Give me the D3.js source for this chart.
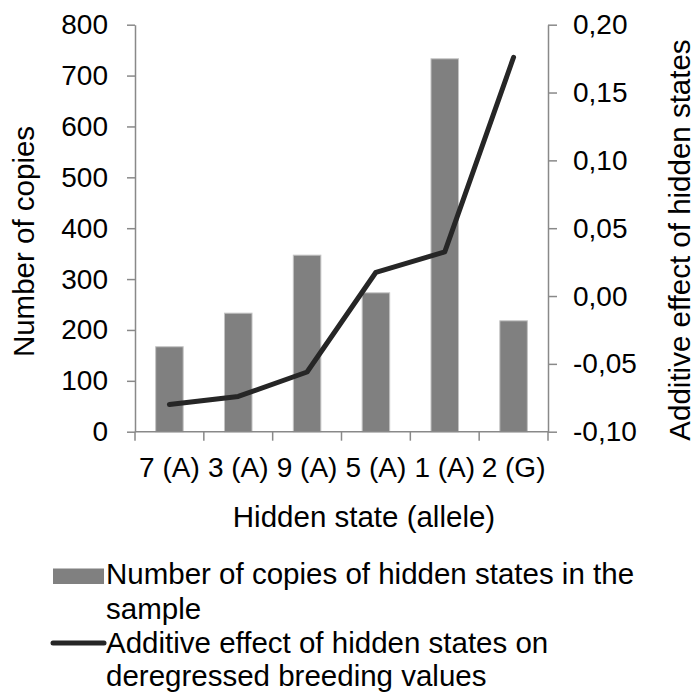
<!DOCTYPE html>
<html>
<head>
<meta charset="utf-8">
<script src="https://cdn.jsdelivr.net/npm/d3@7/dist/d3.min.js"></script>
<style>
  html, body { margin: 0; padding: 0; background: #fff; }
  svg { display: block; }
  text { font-family: "Liberation Sans", Arial, sans-serif; fill: #000; }
</style>
</head>
<body>
<svg id="chart" width="695" height="693"></svg>
<script>
const categories = ["7 (A)", "3 (A)", "9 (A)", "5 (A)", "1 (A)", "2 (G)"];
const copies = [167, 233, 347, 273, 733, 218];
const effects = [-0.080, -0.074, -0.056, 0.0175, 0.0325, 0.176];
const leftTicks = [0, 100, 200, 300, 400, 500, 600, 700, 800];
const rightTicks = [-0.10, -0.05, 0.00, 0.05, 0.10, 0.15, 0.20];
const xTitle = "Hidden state (allele)";
const leftTitle = "Number of copies";
const rightTitle = "Additive effect of hidden states";
const legendBar = ["Number of copies of hidden states in the", "sample"];
const legendLine = ["Additive effect of hidden states on", "deregressed breeding values"];

const svg = d3.select("#chart");
const FS = 28;
const FT = 29.5;
const axisColor = "#898989";
const plotL = 135, plotR = 548, plotT = 24.7, plotB = 431.7;

const x = d3.scaleBand().domain(categories).range([plotL, plotR]).padding(0);
const yL = d3.scaleLinear().domain([0, 800]).range([plotB, plotT]);
const yR = d3.scaleLinear().domain([-0.10, 0.20]).range([plotB, plotT]);

const loc = d3.formatLocale({decimal: ",", thousands: ".", grouping: [3], currency: ["", ""], minus: "-"});
const fmtR = loc.format(".2f");

// Bars
svg.append("g").selectAll("rect").data(categories).join("rect")
  .attr("x", d => x(d) + x.bandwidth() * 0.3)
  .attr("width", x.bandwidth() * 0.4)
  .attr("y", (d, i) => yL(copies[i]))
  .attr("height", (d, i) => yL(0) - yL(copies[i]))
  .attr("fill", "#808080")
  .attr("stroke", "#c4c4c4")
  .attr("stroke-width", 1);

// Left axis
const gL = svg.append("g").attr("transform", `translate(${plotL},0)`)
  .call(d3.axisLeft(yL).tickValues(leftTicks).tickFormat(d3.format("d")).tickSize(8).tickSizeOuter(0).tickPadding(19));
// Right axis
const gR = svg.append("g").attr("transform", `translate(${plotR},0)`)
  .call(d3.axisRight(yR).tickValues(rightTicks).tickFormat(fmtR).tickSize(9).tickSizeOuter(0).tickPadding(16));
// Bottom axis labels
const gB = svg.append("g").attr("transform", `translate(0,${plotB})`)
  .call(d3.axisBottom(x).tickSize(0).tickPadding(25.5));
gB.select(".domain").remove();

// Bottom axis line and boundary ticks
const bounds = categories.map(c => x(c)).concat([x(categories[categories.length - 1]) + x.bandwidth()]);
const gBT = svg.append("g");
gBT.append("line").attr("x1", plotL).attr("x2", plotR).attr("y1", plotB).attr("y2", plotB);
gBT.selectAll("line.t").data(bounds).join("line").attr("class", "t")
  .attr("x1", d => d).attr("x2", d => d).attr("y1", plotB).attr("y2", plotB + 9);
gBT.selectAll("line").attr("stroke", axisColor).attr("stroke-width", 1.5);

[gL, gR].forEach(g => {
  g.select(".domain").attr("stroke", axisColor).attr("stroke-width", 1.5);
  g.selectAll(".tick line").attr("stroke", axisColor).attr("stroke-width", 1.5);
});
[gL, gR, gB].forEach(g => {
  g.selectAll(".tick text").attr("font-size", FS).attr("fill", "#000")
    .style("font-family", '"Liberation Sans", Arial, sans-serif');
});

// Line series
const line = d3.line()
  .x((d, i) => x(categories[i]) + x.bandwidth() / 2)
  .y(d => yR(d));
svg.append("path").datum(effects)
  .attr("d", line)
  .attr("fill", "none")
  .attr("stroke", "#262626")
  .attr("stroke-width", 5)
  .attr("stroke-linejoin", "round")
  .attr("stroke-linecap", "round");

// Titles
svg.append("text").attr("x", 364).attr("y", 527)
  .attr("text-anchor", "middle").attr("font-size", FT).text(xTitle);
svg.append("text").attr("transform", `translate(34,241.5) rotate(-90)`)
  .attr("text-anchor", "middle").attr("font-size", FT).text(leftTitle);
svg.append("text").attr("transform", `translate(690,240) rotate(-90)`)
  .attr("text-anchor", "middle").attr("font-size", FT).text(rightTitle);

// Legend
const lg = svg.append("g");
lg.append("rect").attr("x", 53).attr("y", 568.5).attr("width", 51).attr("height", 15.5).attr("fill", "#808080");
lg.selectAll("text.b").data(legendBar).join("text").attr("class", "b")
  .attr("x", 106).attr("y", (d, i) => 583.5 + i * 35).attr("font-size", FT).text(d => d);
lg.append("line").attr("x1", 53).attr("x2", 104).attr("y1", 643).attr("y2", 643)
  .attr("stroke", "#262626").attr("stroke-width", 5).attr("stroke-linecap", "round");
lg.selectAll("text.l").data(legendLine).join("text").attr("class", "l")
  .attr("x", 106).attr("y", (d, i) => 653 + i * 33).attr("font-size", FT).text(d => d);
</script>
</body>
</html>
